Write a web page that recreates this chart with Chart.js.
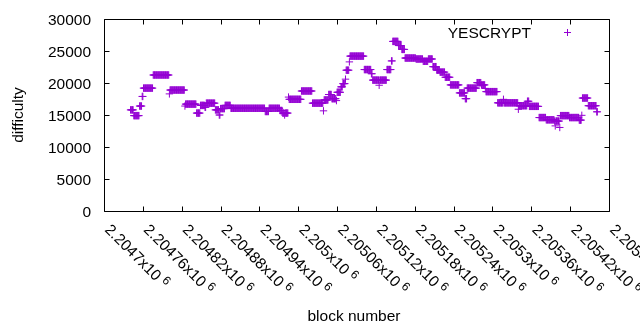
<!DOCTYPE html>
<html>
<head>
<meta charset="utf-8">
<script src="https://cdn.jsdelivr.net/npm/chart.js@4/dist/chart.umd.min.js"></script>
<style>
html,body{margin:0;padding:0;background:#fff;}
canvas{display:block;}
</style>
</head>
<body>
<canvas id="c" width="640" height="330"></canvas>
<script>
// ---- data (runs of blocks sharing one difficulty value) ----
const seriesName = 'YESCRYPT';
const runStart = [
 2204741,2204746,2204755,2204759,2204761,2204776,2204801,2204802,2204825,2204826,
 2204843,2204849,2204856,2204858,2204872,2204878,2204880,2204887,2204896,2204949,
 2204955,2204972,2204976,2204979,2204980,2204985,2204986,2205005,2205022,2205039,
 2205040,2205047,2205052,2205059,2205060,2205066,2205069,2205073,2205074,2205079,
 2205080,2205102,2205113,2205115,2205125,2205126,2205137,2205144,2205146,2205155,
 2205160,2205165,2205182,2205193,2205201,2205208,2205214,2205219,2205227,2205235,
 2205249,2205258,2205261,2205276,2205283,2205289,2205290,2205308,2205317,2205318,
 2205340,2205341,2205354,2205357,2205372,2205383,2205396,2205397,2205398,2205404,
 2205405,2205419,2205434,2205438,2205439,2205448,2205461
];
const runEnd = [
 2204745,2204754,2204758,2204760,2204775,2204800,2204801,2204824,2204825,2204842,
 2204848,2204855,2204857,2204871,2204877,2204879,2204886,2204895,2204948,2204954,
 2204971,2204975,2204978,2204979,2204984,2204985,2205004,2205021,2205038,2205039,
 2205046,2205051,2205058,2205059,2205065,2205068,2205072,2205073,2205078,2205079,
 2205101,2205112,2205114,2205124,2205125,2205136,2205143,2205145,2205154,2205159,
 2205164,2205181,2205192,2205200,2205207,2205213,2205218,2205226,2205234,2205248,
 2205257,2205260,2205275,2205282,2205288,2205289,2205307,2205316,2205317,2205339,
 2205340,2205353,2205356,2205371,2205382,2205395,2205396,2205397,2205403,2205404,
 2205418,2205433,2205437,2205438,2205447,2205460,2205462
];
const runDifficulty = [
 15800,14900,16400,17900,19200,21250,18300,18900,16400,16700,
 15300,16500,16200,16850,15800,15000,16000,16500,16050,15550,
 16050,15700,15300,15000,15300,17800,17450,18750,16850,15650,
 17350,18200,17550,17250,18550,19400,19900,20600,22000,23300,
 24200,22100,21450,20450,19650,20450,22100,23450,26500,25850,
 25250,23900,23750,23400,23750,22550,22000,21700,20900,19700,
 18450,17550,19200,20050,19700,19150,18650,16900,17450,16900,
 15900,16450,17150,16350,14600,14250,14050,13300,14050,13050,
 14900,14600,14200,14950,17650,16450,15500
];
const xTicks = [2204700,2204760,2204820,2204880,2204940,2205000,2205060,2205120,2205180,2205240,2205300,2205360,2205420,2205480];
const xTickLabels = ['2.2047','2.20476','2.20482','2.20488','2.20494','2.205','2.20506','2.20512','2.20518','2.20524','2.2053','2.20536','2.20542','2.20548'];
const xTickExp = '6';
const yTicks = [0,5000,10000,15000,20000,25000,30000];
const yTickLabels = ['0','5000','10000','15000','20000','25000','30000'];
const xTitle = 'block number';
const yTitle = 'difficulty';

const points = [];
for (let i = 0; i < runStart.length; i++) {
  for (let b = runStart[i]; b <= runEnd[i]; b++) points.push({x: b, y: runDifficulty[i]});
}

const PURPLE = 'rgb(148,0,211)';
const FONT = '15.5px "Liberation Sans", Arial, sans-serif';
const SUPFONT = '12px "Liberation Sans", Arial, sans-serif';

const frame = {
  id: 'frame',
  beforeDraw(chart) {
    const c = chart.ctx;
    c.save(); c.fillStyle = '#fff'; c.fillRect(0, 0, chart.width, chart.height); c.restore();
  },
  afterDraw(chart) {
    const c = chart.ctx, a = chart.chartArea, xs = chart.scales.x, ys = chart.scales.y;
    const L = Math.round(a.left) + 0.5, R = Math.round(a.right) + 0.5;
    const T = Math.round(a.top) + 0.5, B = Math.round(a.bottom) + 0.5;
    const tl = 5;
    c.save();
    c.strokeStyle = '#000'; c.lineWidth = 1;
    c.beginPath();
    c.rect(L, T, R - L, B - T);
    xTicks.forEach(v => {
      const px = Math.round(xs.getPixelForValue(v)) + 0.5;
      c.moveTo(px, B); c.lineTo(px, B - tl);
      c.moveTo(px, T); c.lineTo(px, T + tl);
    });
    yTicks.forEach(v => {
      const py = Math.round(ys.getPixelForValue(v)) + 0.5;
      c.moveTo(L, py); c.lineTo(L + tl, py);
      c.moveTo(R, py); c.lineTo(R - tl, py);
    });
    c.stroke();

    c.fillStyle = '#000';
    c.font = FONT;
    c.textAlign = 'right'; c.textBaseline = 'alphabetic';
    yTicks.forEach((v, i) => {
      const py = ys.getPixelForValue(v);
      c.fillText(yTickLabels[i], 91, py + 5.5);
    });

    xTicks.forEach((v, i) => {
      const px = xs.getPixelForValue(v);
      c.save();
      c.translate(px, a.bottom + 19.5);
      c.rotate(Math.PI / 4);
      c.textAlign = 'left';
      c.font = FONT;
      c.fillText(xTickLabels[i] + 'x10', 0, 0);
      const w = c.measureText(xTickLabels[i] + 'x10').width;
      c.font = SUPFONT;
      c.fillText(xTickExp, w + 4, -5);
      c.restore();
    });

    c.font = FONT;
    c.textAlign = 'center';
    c.fillText(xTitle, 354, 321);
    c.save();
    c.translate(23, 115);
    c.rotate(-Math.PI / 2);
    c.fillText(yTitle, 0, 0);
    c.restore();

    // key
    c.textAlign = 'right';
    c.fillText(seriesName, 531, 37.5);
    c.strokeStyle = PURPLE;
    c.beginPath();
    c.moveTo(564, 32.5); c.lineTo(571, 32.5);
    c.moveTo(567.5, 29); c.lineTo(567.5, 36);
    c.stroke();
    c.restore();
  }
};

new Chart(document.getElementById('c'), {
  type: 'scatter',
  data: { datasets: [{
    label: seriesName, data: points,
    pointStyle: 'cross', pointRadius: 3.7, pointHoverRadius: 3.7,
    borderColor: PURPLE, backgroundColor: PURPLE, borderWidth: 1, clip: false
  }]},
  options: {
    responsive: false, animation: false, events: [],
    layout: { padding: { left: 104, right: 31, top: 19, bottom: 119 } },
    plugins: { legend: { display: false }, tooltip: { enabled: false } },
    scales: {
      x: { type: 'linear', min: 2204700, max: 2205480, display: false },
      y: { type: 'linear', min: 0, max: 30000, display: false }
    }
  },
  plugins: [frame]
});
</script>
</body>
</html>
